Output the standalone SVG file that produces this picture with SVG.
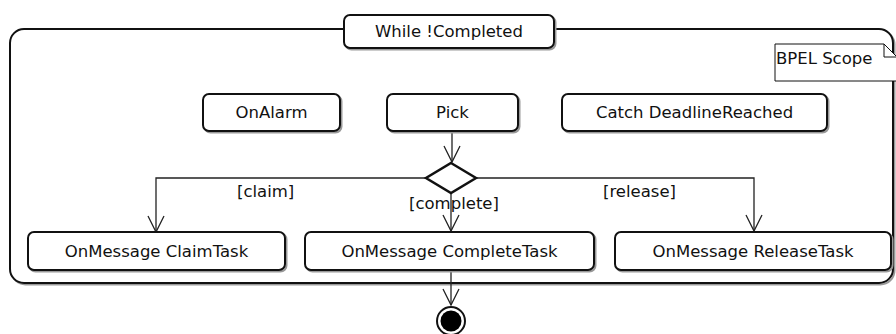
<svg xmlns="http://www.w3.org/2000/svg" width="896" height="334" viewBox="0 0 896 334">
<defs>
<style>
text{font-family:"DejaVu Sans","Liberation Sans",sans-serif;font-size:16.5px;fill:#111}
.c{text-anchor:middle}
.box{fill:#fff;stroke:#111;stroke-width:2}
.sh{fill:none;stroke:#999;stroke-width:2}
.ln{fill:none;stroke:#222;stroke-width:1.3}
</style>
<marker id="ar" viewBox="0 0 20 20" refX="18" refY="10" markerWidth="20" markerHeight="20" markerUnits="userSpaceOnUse" orient="auto-start-reverse">
<path d="M2,2 L18,10 L2,18" fill="none" stroke="#222" stroke-width="1.3"/>
</marker>
</defs>
<rect width="896" height="334" fill="#fff"/>
<g id="frame">
<rect class="sh" x="11.5" y="30.5" width="883" height="254" rx="14"/>
<rect x="10" y="29" width="883" height="254" rx="14" fill="#fff" stroke="#111" stroke-width="2"/>
</g>
<g id="title">
<rect class="sh" x="345.5" y="16.5" width="210" height="33" rx="6"/>
<rect class="box" x="344" y="15" width="210" height="33" rx="6"/>
<text class="c" x="449" y="37">While !Completed</text>
</g>
<g id="note">
<path d="M775,44 H884 L897,57 V81 H775 Z" fill="#fff" stroke="#111" stroke-width="1"/>
<path d="M884,44 V57 H897" fill="none" stroke="#111" stroke-width="1"/>
<text x="776" y="64">BPEL Scope</text>
</g>
<g id="connectors">
<path class="ln" d="M452,131 V162" marker-end="url(#ar)"/>
<path class="ln" d="M156,232 V178 H754 V231" marker-start="url(#ar)" marker-end="url(#ar)"/>
<path class="ln" d="M451,193 V231" marker-end="url(#ar)"/>
<path class="ln" d="M451,270 V305" marker-end="url(#ar)"/>
</g>
<g id="onalarm">
<rect class="sh" x="204.5" y="95.5" width="137" height="37" rx="6"/>
<rect class="box" x="203" y="94" width="137" height="37" rx="6"/>
<text class="c" x="271.5" y="118">OnAlarm</text>
</g>
<g id="pick">
<rect class="sh" x="388.5" y="95.5" width="131" height="37" rx="6"/>
<rect class="box" x="387" y="94" width="131" height="37" rx="6"/>
<text class="c" x="452.5" y="118">Pick</text>
</g>
<g id="catch">
<rect class="sh" x="563.5" y="95.5" width="265" height="37" rx="6"/>
<rect class="box" x="562" y="94" width="265" height="37" rx="6"/>
<text class="c" x="694.5" y="118">Catch DeadlineReached</text>
</g>
<g id="decision">
<path d="M451,163 L476,178 L451,193 L426,178 Z" fill="#fff" stroke="#111" stroke-width="2.5" stroke-linejoin="miter"/>
</g>
<g id="labels">
<text x="237" y="197">[claim]</text>
<text x="409" y="209">[complete]</text>
<text x="603" y="197">[release]</text>
</g>
<g id="claim">
<rect class="sh" x="29.5" y="233.5" width="257" height="38" rx="6"/>
<rect class="box" x="28" y="232" width="257" height="38" rx="6"/>
<text class="c" x="156.5" y="257">OnMessage ClaimTask</text>
</g>
<g id="complete">
<rect class="sh" x="306.5" y="233.5" width="289" height="38" rx="6"/>
<rect class="box" x="305" y="232" width="289" height="38" rx="6"/>
<text class="c" x="449.5" y="257">OnMessage CompleteTask</text>
</g>
<g id="release">
<rect class="sh" x="616.5" y="233.5" width="276" height="38" rx="6"/>
<rect class="box" x="615" y="232" width="276" height="38" rx="6"/>
<text class="c" x="753" y="257">OnMessage ReleaseTask</text>
</g>
<g id="final">
<circle cx="451" cy="321" r="14" fill="#fff" stroke="#111" stroke-width="2"/>
<circle cx="451" cy="321" r="10.5" fill="#000"/>
</g>
</svg>
